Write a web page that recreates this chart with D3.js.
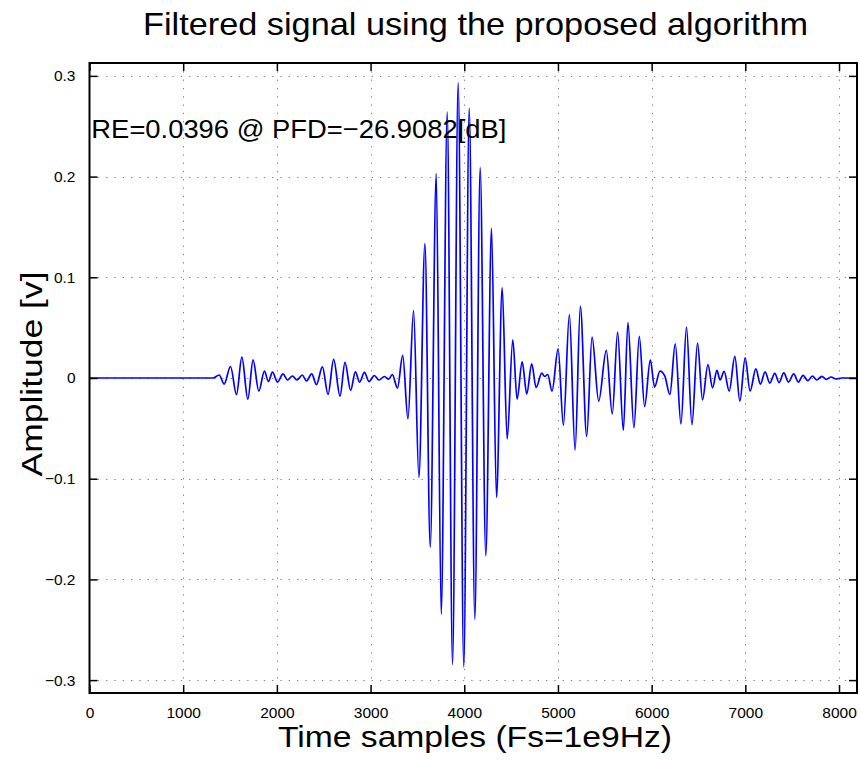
<!DOCTYPE html>
<html>
<head>
<meta charset="utf-8">
<script src="https://cdn.jsdelivr.net/npm/d3@7"></script>
<style>
  html, body { margin: 0; padding: 0; background: #fff; }
  svg { display: block; }
  text { font-family: "Liberation Sans", Arial, Helvetica, sans-serif; fill: #000; }
</style>
</head>
<body>
<svg id="chart" width="860" height="760"></svg>
<script>
// ---- data ----
const titleText = "Filtered signal using the proposed algorithm";
const xLabelText = "Time samples (Fs=1e9Hz)";
const yLabelText = "Amplitude [v]";
const noteText = "RE=0.0396 @ PFD=\u221226.9082[dB]";
const xTicks = [0, 1000, 2000, 3000, 4000, 5000, 6000, 7000, 8000];
const yTicks = [-0.3, -0.2, -0.1, 0, 0.1, 0.2, 0.3];
const xDomain = [0, 8192];
const yDomain = [-0.3128, 0.3128];
const notePos = [20, 0.248];

// signal extrema (sample index, amplitude)
const sampleIdx = [
  0, 1320, 1384, 1437, 1505, 1569, 1626, 1690, 1746, 1807, 1867, 1910, 1953, 2006,
  2066, 2113, 2166, 2215, 2272, 2315, 2372, 2422, 2486, 2546, 2606, 2674, 2727, 2787,
  2838, 2883, 2935, 2983, 3040, 3089, 3148, 3193, 3232, 3287, 3343, 3399, 3459, 3516,
  3580, 3637, 3701, 3754, 3818, 3875, 3935, 3995, 4053, 4113, 4170, 4230, 4291, 4344,
  4405, 4458, 4518, 4564, 4618, 4667, 4720, 4767, 4827, 4859, 4891, 4937, 5002, 5058,
  5122, 5183, 5239, 5307, 5364, 5435, 5516, 5580, 5637, 5698, 5747, 5811, 5868, 5925,
  5986, 6031, 6089, 6140, 6195, 6252, 6313, 6372, 6430, 6490, 6543, 6601, 6650, 6697,
  6730, 6774, 6828, 6888, 6942, 6998, 7051, 7112, 7161, 7211, 7261, 7315, 7360, 7411,
  7460, 7517, 7566, 7616, 7667, 7716, 7763, 7816, 7865, 7915, 7965, 8030, 8192
];
const amplitude = [
  0, 0, 0.003, -0.006, 0.0114, -0.0164, 0.0207, -0.021, 0.018, -0.013, 0.0068, -0.0035, 0.0058, -0.004,
  0.004, -0.002, 0.002, -0.002, 0.003, -0.003, 0.004, -0.0065, 0.011, -0.0164, 0.0184, -0.018, 0.0155, -0.0124,
  0.006, -0.004, 0.0055, -0.0035, 0.0025, -0.002, 0.0015, -0.0012, 0.0035, -0.010, 0.0224, -0.0406, 0.067, -0.0987,
  0.1335, -0.168, 0.203, -0.2346, 0.264, -0.2844, 0.2933, -0.287, 0.268, -0.2396, 0.209, -0.1766, 0.1485, -0.1186,
  0.0894, -0.0605, 0.038, -0.021, 0.016, -0.0157, 0.014, -0.0095, 0.0048, 0.0015, 0.0035, -0.013, 0.029, -0.047,
  0.063, -0.0715, 0.0711, -0.058, 0.0406, -0.023, 0.0274, -0.0357, 0.0456, -0.052, 0.055, -0.0496, 0.0413, -0.0284,
  0.018, -0.009, 0.0068, 0.002, -0.0164, 0.034, -0.0456, 0.0506, -0.0463, 0.0346, -0.0217, 0.0134, -0.0098, 0.0075,
  -0.002, 0.0065, -0.013, 0.0214, -0.023, 0.020, -0.013, 0.009, -0.006, 0.006, -0.005, 0.0045, -0.0045, 0.005,
  -0.004, 0.004, -0.004, 0.0027, -0.0027, 0.002, -0.002, 0.0017, -0.0013, 0.001, -0.001, 0, 0
];

// ---- layout ----
const W = 860, H = 760;
const margin = { left: 89.5, right: 3, top: 63, bottom: 67 };
const plotW = W - margin.left - margin.right;
const plotH = H - margin.top - margin.bottom;
const tickLen = 8;

const svg = d3.select("#chart");
svg.append("rect").attr("width", W).attr("height", H).attr("fill", "#fff");

const x = d3.scaleLinear().domain(xDomain).range([margin.left, margin.left + plotW]);
const y = d3.scaleLinear().domain(yDomain).range([margin.top + plotH, margin.top]);

const g = svg.append("g");

// grid
const grid = g.append("g").attr("stroke", "#808080").attr("stroke-width", 1)
  .attr("stroke-dasharray", "1.3,7").attr("fill", "none");
grid.selectAll("line.vx").data(xTicks.filter(d => d > xDomain[0] && d < xDomain[1])).enter()
  .append("line")
  .attr("x1", d => Math.round(x(d)) + 0.5).attr("x2", d => Math.round(x(d)) + 0.5)
  .attr("y1", margin.top).attr("y2", margin.top + plotH);
grid.selectAll("line.hy").data(yTicks).enter()
  .append("line")
  .attr("x1", margin.left).attr("x2", margin.left + plotW)
  .attr("y1", d => Math.round(y(d)) + 0.5).attr("y2", d => Math.round(y(d)) + 0.5);

// signal
const pts = sampleIdx.map((s, i) => [s, amplitude[i]]);
const line = d3.line().x(d => x(d[0])).y(d => y(d[1])).curve(d3.curveMonotoneX);
g.append("path").datum(pts)
  .attr("d", line)
  .attr("fill", "none")
  .attr("stroke", "#0000ff")
  .attr("stroke-width", 1.7)
  .attr("stroke-linejoin", "round");

// axes (inward ticks on all four sides)
const fmtY = d3.format(".1f");
const yTickFmt = d => d === 0 ? "0" : fmtY(d);
const xAxisB = d3.axisBottom(x).tickValues(xTicks).tickSizeInner(-tickLen).tickSizeOuter(0).tickPadding(14).tickFormat(d3.format("d"));
const xAxisT = d3.axisTop(x).tickValues(xTicks).tickSizeInner(-tickLen).tickSizeOuter(0).tickFormat("");
const yAxisL = d3.axisLeft(y).tickValues(yTicks).tickSizeInner(-tickLen).tickSizeOuter(0).tickPadding(14).tickFormat(yTickFmt);
const yAxisR = d3.axisRight(y).tickValues(yTicks).tickSizeInner(-tickLen).tickSizeOuter(0).tickFormat("");

function styleAxis(sel) {
  sel.select(".domain").remove();
  sel.selectAll(".tick line").attr("stroke", "#000").attr("stroke-width", 1.5);
  sel.selectAll(".tick text").attr("font-size", "15.5px")
    .attr("font-family", "'Liberation Sans', Arial, Helvetica, sans-serif").attr("fill", "#000");
}
g.append("g").attr("transform", `translate(0,${margin.top + plotH})`).call(xAxisB).call(styleAxis);
g.append("g").attr("transform", `translate(0,${margin.top})`).call(xAxisT).call(styleAxis);
g.append("g").attr("transform", `translate(${margin.left},0)`).call(yAxisL).call(styleAxis);
g.append("g").attr("transform", `translate(${margin.left + plotW},0)`).call(yAxisR).call(styleAxis);

// frame
g.append("rect")
  .attr("x", margin.left).attr("y", margin.top)
  .attr("width", plotW).attr("height", plotH)
  .attr("fill", "none").attr("stroke", "#000").attr("stroke-width", 2);

// annotation
svg.append("text")
  .attr("x", x(notePos[0])).attr("y", y(notePos[1]))
  .attr("dy", "0.35em")
  .attr("font-size", "26.5px")
  .attr("textLength", 415).attr("lengthAdjust", "spacingAndGlyphs")
  .text(noteText);

// title
svg.append("text")
  .attr("x", 475.5).attr("y", 35)
  .attr("text-anchor", "middle")
  .attr("font-size", "32px")
  .attr("textLength", 665).attr("lengthAdjust", "spacingAndGlyphs")
  .text(titleText);

// x label
svg.append("text")
  .attr("x", 475).attr("y", 747)
  .attr("text-anchor", "middle")
  .attr("font-size", "30px")
  .attr("textLength", 394).attr("lengthAdjust", "spacingAndGlyphs")
  .text(xLabelText);

// y label
svg.append("text")
  .attr("transform", `translate(42,374) rotate(-90)`)
  .attr("text-anchor", "middle")
  .attr("font-size", "30px")
  .attr("textLength", 205).attr("lengthAdjust", "spacingAndGlyphs")
  .text(yLabelText);
</script>
</body>
</html>
